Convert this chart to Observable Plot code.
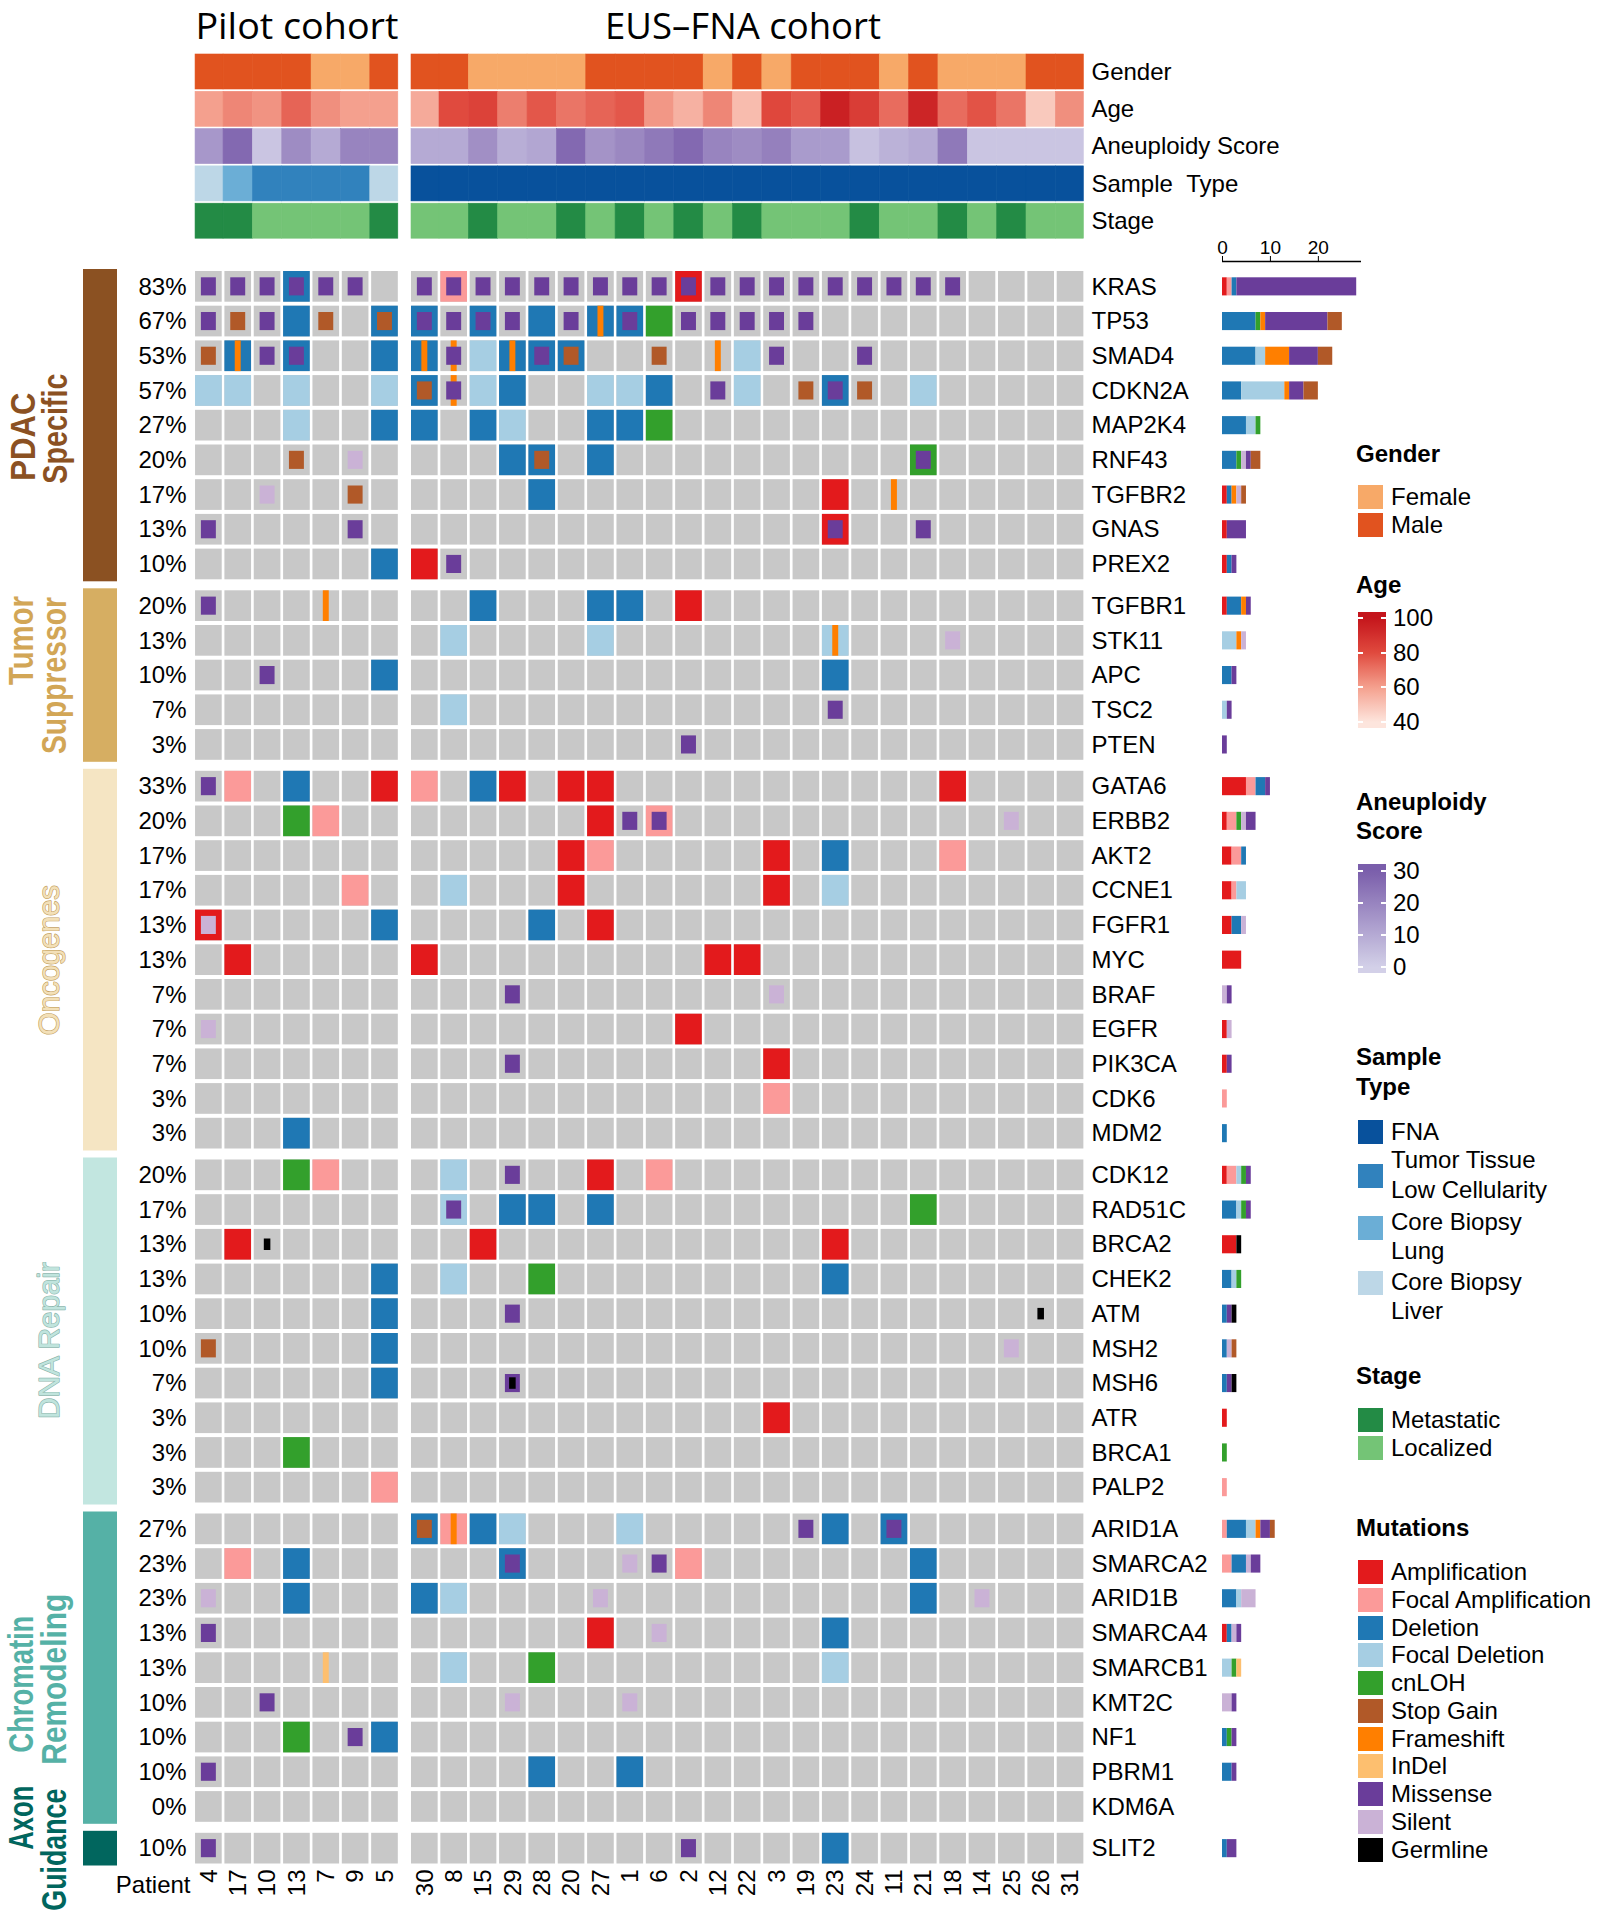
<!DOCTYPE html>
<html><head><meta charset="utf-8">
<script src="https://cdn.jsdelivr.net/npm/d3@7"></script>
<script src="https://cdn.jsdelivr.net/npm/@observablehq/plot@0.6"></script>
<style>
html,body{margin:0;padding:0;background:#fff;overflow:hidden;}
#wrap{position:relative;width:1600px;height:1920px;overflow:hidden;font-family:'Liberation Sans',Arial,sans-serif;color:#000;}
#wrap svg{position:absolute;left:0;top:0;}
.lg{position:absolute;font-size:24px;line-height:26px;white-space:nowrap;color:#000;}
.lgt{font-weight:bold;}
.sw{position:absolute;}
</style></head><body><div id="wrap"></div>
<script>
// ---------------- DATA ----------------
const patients = [4,17,10,13,7,9,5,30,8,15,29,28,20,27,1,6,2,12,22,3,19,23,24,11,21,18,14,25,26,31];
const PILOT_N = 7;
const gender = ["Male","Male","Male","Male","Female","Female","Male",
  "Male","Male","Female","Female","Female","Female","Male","Male","Male","Male","Female","Male","Female","Male","Male","Male","Female","Male","Female","Female","Female","Male","Male"];
const age = [60,66,63,74,64,60,60, 57,80,83,68,77,70,74,77,62,55,66,52,81,76,96,85,72,94,72,78,70,48,64];
const aneuploidy = [15,27,3,18,10,20,20, 10,10,17,9,11,27,16,19,23,27,20,18,21,14,14,4,8,10,23,3,3,3,3];
const sampleType = ["Core Biopsy Liver","Core Biopsy Lung","Tumor Tissue Low Cellularity","Tumor Tissue Low Cellularity","Tumor Tissue Low Cellularity","Tumor Tissue Low Cellularity","Core Biopsy Liver",
  "FNA","FNA","FNA","FNA","FNA","FNA","FNA","FNA","FNA","FNA","FNA","FNA","FNA","FNA","FNA","FNA","FNA","FNA","FNA","FNA","FNA","FNA","FNA"];
const stage = ["Metastatic","Metastatic","Localized","Localized","Localized","Localized","Metastatic",
  "Localized","Localized","Metastatic","Localized","Localized","Metastatic","Localized","Metastatic","Localized","Metastatic","Localized","Metastatic","Localized","Localized","Localized","Metastatic","Localized","Localized","Metastatic","Localized","Metastatic","Localized","Localized"];

const cohortTitles = ["Pilot cohort","EUS\u2013FNA cohort"];
const trackNames = ["Gender","Age","Aneuploidy Score","Sample\u00a0\u00a0Type","Stage"];

const groupNames = ["PDAC Specific","Tumor Suppressor","Oncogenes","DNA Repair","Chromatin Remodeling","Axon Guidance"];
const groupLabelLines = [["PDAC","Specific"],["Tumor","Suppressor"],["Oncogenes"],["DNA Repair"],["Chromatin","Remodeling"],["Axon","Guidance"]];
const groupSizes = [9,5,11,10,9,1];
const genes = ["KRAS","TP53","SMAD4","CDKN2A","MAP2K4","RNF43","TGFBR2","GNAS","PREX2",
  "TGFBR1","STK11","APC","TSC2","PTEN",
  "GATA6","ERBB2","AKT2","CCNE1","FGFR1","MYC","BRAF","EGFR","PIK3CA","CDK6","MDM2",
  "CDK12","RAD51C","BRCA2","CHEK2","ATM","MSH2","MSH6","ATR","BRCA1","PALP2",
  "ARID1A","SMARCA2","ARID1B","SMARCA4","SMARCB1","KMT2C","NF1","PBRM1","KDM6A",
  "SLIT2"];
const percentLabels = ["83%","67%","53%","57%","27%","20%","17%","13%","10%",
  "20%","13%","10%","7%","3%",
  "33%","20%","17%","17%","13%","13%","7%","7%","7%","3%","3%",
  "20%","17%","13%","13%","10%","10%","7%","3%","3%","3%",
  "27%","23%","23%","13%","13%","10%","10%","10%","0%",
  "10%"];
// patient:alteration codes, one string per gene (same order as genes)
const geneAlterations = [
  "4:M 17:M 10:M 13:D,M 7:M 9:M 30:M 8:FA,M 15:M 29:M 28:M 20:M 27:M 1:M 6:M 2:A,M 12:M 22:M 3:M 19:M 23:M 24:M 11:M 21:M 18:M",
  "4:M 17:SG 10:M 13:D 7:SG 5:D,SG 30:D,M 8:M 15:D,M 29:M 28:D 20:M 27:D,FS 1:D,M 6:L 2:M 12:M 22:M 3:M 19:M",
  "4:SG 17:D,FS 10:M 13:D,M 5:D 30:D,FS 8:FS,M 15:FD 29:D,FS 28:D,M 20:D,SG 6:SG 12:FS 22:FD 3:M 24:M",
  "4:FD 17:FD 13:FD 5:FD 30:D,SG 8:FS,M 15:FD 29:D 27:FD 1:FD 6:D 12:M 22:FD 19:SG 23:D,M 24:SG 21:FD",
  "13:FD 5:D 30:D 15:D 29:FD 27:D 1:D 6:L",
  "13:SG 9:S 29:D 28:D,SG 27:D 21:L,M",
  "10:S 9:SG 28:D 23:A 11:FS",
  "4:M 9:M 23:A,M 21:M",
  "5:D 30:A 8:M",
  "4:M 7:FS 15:D 27:D 1:D 2:A",
  "8:FD 27:FD 23:FD,FS 18:S",
  "10:M 5:D 23:D",
  "8:FD 23:M",
  "2:M",
  "4:M 17:FA 13:D 5:A 30:FA 15:D 29:A 20:A 27:A 18:A",
  "13:L 7:FA 27:A 1:M 6:FA,M 25:S",
  "20:A 27:FA 3:A 23:D 18:FA",
  "9:FA 8:FD 20:A 3:A 23:FD",
  "4:A,S 5:D 28:D 27:A",
  "17:A 30:A 12:A 22:A",
  "29:M 3:S",
  "4:S 2:A",
  "29:M 3:A",
  "3:FA",
  "13:D",
  "13:L 7:FA 8:FD 29:M 27:A 6:FA",
  "8:FD,M 29:D 28:D 27:D 21:L",
  "17:A 10:G 15:A 23:A",
  "5:D 8:FD 28:L 23:D",
  "5:D 29:M 26:G",
  "4:SG 5:D 25:S",
  "5:D 29:M,G",
  "3:A",
  "13:L",
  "5:FA",
  "30:D,SG 8:FA,FS 15:D 29:FD 1:FD 19:M 23:D 11:D,M",
  "17:FA 13:D 29:D,M 1:S 6:M 2:FA 21:D",
  "4:S 13:D 30:D 8:FD 27:S 21:D 14:S",
  "4:M 27:A 6:S 23:D",
  "7:ID 8:FD 28:L 23:FD",
  "10:M 29:S 1:S",
  "13:L 9:M 5:D",
  "4:M 28:D 1:D",
  "",
  "4:M 2:M 23:D"
];

const mutationTypes = ["Amplification","Focal Amplification","Deletion","Focal Deletion","cnLOH","Stop Gain","Frameshift","InDel","Missense","Silent","Germline"];
const mutationCodes = ["A","FA","D","FD","L","SG","FS","ID","M","S","G"];
const mutationColors = ["#e31a1c","#fb9a99","#1f78b4","#a6cee3","#33a02c","#b15928","#ff7f00","#fdbf6f","#6a3d9a","#cab2d6","#000000"];
const stackOrder = ["A","FA","D","FD","L","FS","ID","S","M","SG","G"];

const genderKeys = ["Female","Male"];
const genderColors = ["#f7a968","#e1531f"];
const sampleKeys = ["FNA","Tumor Tissue Low Cellularity","Core Biopsy Lung","Core Biopsy Liver"];
const sampleColors = ["#08519c","#3182bd","#6baed6","#bdd7e7"];
const stageKeys = ["Metastatic","Localized"];
const stageColors = ["#238b45","#74c476"];
const groupColors = ["#8b5122","#d6ae62","#f5e5c3","#c2e6e0","#55b1a6","#01665e"];
const groupTextFill = ["#8b5122","#d2a656","#f3e0b8","#c0e4dd","#55b1a6","#01665e"];
const groupTextStroke = [null,null,"#c4a265","#8db6ae",null,null];

// ---------------- LAYOUT ----------------
const FONT = "'Liberation Sans', Arial, sans-serif";
const TITLE_FONT = "'Open Sans', 'Liberation Sans', sans-serif";
const GROUP_FONT = "'Liberation Sans Narrow', 'Liberation Sans', Arial, sans-serif";
const X0 = 193.7, PX = 29.35, COHORT_GAP = 0.358;
const Y0 = 269, PY = 34.7, GROUP_GAP = 7 / 34.7;
const pyToY = p => (p - Y0) / PY;
const pxToX = p => (p - X0) / PX;

const typeColor = Object.fromEntries(mutationCodes.map((c, i) => [c, mutationColors[i]]));
const typeName = Object.fromEntries(mutationCodes.map((c, i) => [c, mutationTypes[i]]));
const gColor = Object.fromEntries(genderKeys.map((k, i) => [k, genderColors[i]]));
const sColor = Object.fromEntries(sampleKeys.map((k, i) => [k, sampleColors[i]]));
const stColor = Object.fromEntries(stageKeys.map((k, i) => [k, stageColors[i]]));
const ageColor = d3.scaleLinear().domain([40, 60, 80, 100]).range(["#fde5dd", "#f4a08e", "#e04a3e", "#c4151c"]).clamp(true);
const aneuColor = d3.scaleLinear().domain([0, 30]).range(["#d3d0e8", "#7a5eab"]).clamp(true);

const groupOfRow = groupSizes.flatMap((n, g) => Array(n).fill(g));
const groupStart = groupSizes.map((n, g) => d3.sum(groupSizes.slice(0, g)));
const xStart = i => i + (i >= PILOT_N ? COHORT_GAP : 0);
const yStart = r => r + groupOfRow[r] * GROUP_GAP;

// alterations table
const alts = [];
geneAlterations.forEach((s, r) => {
  s.split(/\s+/).filter(Boolean).forEach(tok => {
    const [p, codes] = tok.split(":");
    const i = patients.indexOf(+p);
    codes.split(",").forEach(c => alts.push({r, i, type: c, x1: xStart(i), x2: xStart(i) + 1, y1: yStart(r), y2: yStart(r) + 1}));
  });
});
const cells = [];
genes.forEach((g, r) => patients.forEach((p, i) => cells.push({r, i, x1: xStart(i), x2: xStart(i) + 1, y1: yStart(r), y2: yStart(r) + 1})));

const cnv = alts.filter(d => ["A","FA","D","FD","L"].includes(d.type));
const indel = alts.filter(d => ["FS","ID"].includes(d.type));
const squares = alts.filter(d => ["M","SG","S"].includes(d.type));
const germ = alts.filter(d => d.type === "G");

// header tracks
const trackValues = [
  i => gColor[gender[i]],
  i => ageColor(age[i]),
  i => aneuColor(aneuploidy[i]),
  i => sColor[sampleType[i]],
  i => stColor[stage[i]]
];
const TRACK_TOP = 54, TRACK_PITCH = 37.3, TRACK_H = 35;
const header = [];
trackValues.forEach((fn, t) => patients.forEach((p, i) => {
  const first = i === 0 || i === PILOT_N, last = i === PILOT_N - 1 || i === patients.length - 1;
  header.push({
    x1: xStart(i) + (first ? 1.35 / PX : 0), x2: xStart(i) + 1 - (last ? 1.35 / PX : 0),
    y1: pyToY(TRACK_TOP + t * TRACK_PITCH), y2: pyToY(TRACK_TOP + t * TRACK_PITCH + TRACK_H), fill: fn(i)
  });
}));

const groupBlocks = groupSizes.map((n, g) => ({g, y1: yStart(groupStart[g]), y2: yStart(groupStart[g] + n - 1) + 1}));
const labelLayout = [
  {xs: [23, 55], dys: [11, 3], size: 35, weight: "bold"},
  {xs: [21, 54], dys: [-35, 0], size: 35, weight: "bold"},
  {xs: [49], dys: [0], size: 29, weight: "normal"},
  {xs: [49], dys: [9], size: 29, weight: "normal"},
  {xs: [21, 54], dys: [16, 11], size: 35, weight: "bold"},
  {xs: [21, 54], dys: [-31, 1], size: 35, weight: "bold"}
];
const groupTextMarks = groupBlocks.map(b => {
  const L = labelLayout[b.g];
  const data = groupLabelLines[b.g].map((t, k) => ({t, x: pxToX(L.xs[k]), y: (b.y1 + b.y2) / 2 + L.dys[k] / PY}));
  return Plot.text(data, {
    x: "x", y: "y", text: "t", rotate: -90, textAnchor: "middle", lineAnchor: "middle",
    fontSize: L.size, fontWeight: L.weight, fontFamily: GROUP_FONT,
    fill: groupTextFill[b.g],
    ...(groupTextStroke[b.g] ? {stroke: groupTextStroke[b.g], strokeWidth: 1.3, paintOrder: "stroke"} : {})
  });
});

const insetCell = {insetLeft: 1.35, insetRight: 1.35, insetTop: 2, insetBottom: 2};
const rectCh = {x1: "x1", x2: "x2", y1: "y1", y2: "y2"};

const main = Plot.plot({
  width: 1600, height: 1920, margin: 0,
  style: {background: "transparent", fontFamily: FONT, color: "#000"},
  x: {type: "linear", domain: [0, 1], range: [X0, X0 + PX], axis: null},
  y: {type: "linear", domain: [0, 1], range: [Y0, Y0 + PY], axis: null},
  color: {type: "identity"},
  marks: [
    // header annotation tracks
    Plot.rect(header, {...rectCh, fill: "fill", stroke: "fill", strokeWidth: 0.6}),
    // grid
    Plot.rect(cells, {...rectCh, fill: "#c8c8c8", ...insetCell}),
    Plot.rect(cnv, {...rectCh, fill: d => typeColor[d.type], ...insetCell}),
    Plot.rect(indel, {...rectCh, fill: d => typeColor[d.type], insetLeft: 11.7, insetRight: 11.7, insetTop: 2, insetBottom: 2}),
    Plot.rect(squares, {...rectCh, fill: d => typeColor[d.type], insetLeft: 7.2, insetRight: 7.2, insetTop: 8.3, insetBottom: 8.3}),
    Plot.rect(germ, {...rectCh, fill: d => typeColor[d.type], insetLeft: 11.4, insetRight: 11.4, insetTop: 11.6, insetBottom: 11.6}),
    // group bars
    Plot.rect(groupBlocks, {x1: pxToX(83), x2: pxToX(117), y1: "y1", y2: "y2", fill: d => groupColors[d.g]}),
    ...groupTextMarks,
    // labels
    Plot.text(genes, {x: pxToX(186), y: (d, r) => yStart(r) + 0.5, text: (d, r) => percentLabels[r], textAnchor: "end", fontSize: 24, fontFamily: FONT}),
    Plot.text(genes, {x: pxToX(1091), y: (d, r) => yStart(r) + 0.5, text: d => d, textAnchor: "start", fontSize: 24, fontFamily: FONT}),
    Plot.text(trackNames, {x: pxToX(1091), y: (d, t) => pyToY(TRACK_TOP + t * TRACK_PITCH + TRACK_H / 2), text: d => d, textAnchor: "start", fontSize: 24, fontFamily: FONT}),
    Plot.text(patients, {x: (d, i) => xStart(i) + 0.5, y: pyToY(1869), text: d => String(d), rotate: -90, textAnchor: "end", fontSize: 24, fontFamily: FONT}),
    Plot.text(["Patient"], {x: pxToX(190), y: pyToY(1885), text: d => d, textAnchor: "end", fontSize: 24, fontFamily: FONT}),
    Plot.text(cohortTitles, {x: (d, k) => k === 0 ? PILOT_N / 2 : 18.7, y: pyToY(26.5), text: d => d, textAnchor: "middle", fontSize: 36, fontFamily: TITLE_FONT})
  ]
});

// stacked count bars on the right
const segs = [];
genes.forEach((g, r) => {
  let acc = 0;
  stackOrder.forEach(t => {
    const n = alts.filter(d => d.r === r && d.type === t).length;
    if (n) { segs.push({r, t, x1: acc, x2: acc + n}); acc += n; }
  });
});
const BAR_AXIS_PX = 261;
const barPlot = Plot.plot({
  width: 1600, height: 1920, marginTop: BAR_AXIS_PX, marginLeft: 1222, marginRight: 239, marginBottom: 0,
  style: {background: "transparent", fontFamily: FONT, color: "#000"},
  x: {type: "linear", domain: [0, 29], range: [1222, 1361]},
  y: {type: "linear", domain: [0, 1], range: [Y0, Y0 + PY], axis: null},
  color: {type: "identity"},
  marks: [
    Plot.rect(segs, {x1: "x1", x2: "x2", y1: d => yStart(d.r), y2: d => yStart(d.r) + 1, fill: d => typeColor[d.t], insetTop: 8.3, insetBottom: 8.3}),
    Plot.ruleY([pyToY(BAR_AXIS_PX)], {x1: 0, x2: 29, stroke: "#000", strokeWidth: 1.5}),
    Plot.axisX({anchor: "top", ticks: [0, 10, 20], tickSize: 6, tickPadding: 2, fontSize: 19, label: null})
  ]
});

const wrap = document.getElementById("wrap");
wrap.appendChild(main);
wrap.appendChild(barPlot);

// stretch titles & group labels to the reference widths
const textLengths = {"Pilot cohort": 203, "EUS\u2013FNA cohort": 276, "PDAC": 88, "Specific": 110, "Tumor": 89, "Suppressor": 157,
  "Oncogenes": 150, "DNA Repair": 157, "Chromatin": 137, "Remodeling": 171, "Axon": 64, "Guidance": 122};
d3.select(main).selectAll("text").each(function () {
  const L = textLengths[this.textContent];
  if (L) { this.setAttribute("textLength", L); this.setAttribute("lengthAdjust", "spacingAndGlyphs"); }
});

// ---------------- LEGENDS ----------------
function lgText(txt, x, cy, bold) {
  const d = document.createElement("div");
  d.className = "lg" + (bold ? " lgt" : "");
  d.textContent = txt; d.style.left = x + "px"; d.style.top = (cy - 13) + "px";
  wrap.appendChild(d);
}
function lgBox(color, x, cy, w, h) {
  const d = document.createElement("div");
  d.className = "sw";
  Object.assign(d.style, {left: x + "px", top: (cy - h / 2) + "px", width: w + "px", height: h + "px", background: color});
  wrap.appendChild(d);
}
function lgRamp(x, top, bottom, w, colorFn, vTop, vBot, pTop, pBot, ticks) {
  const v = p => vTop + (p - pTop) / (pBot - pTop) * (vBot - vTop);
  const stops = d3.range(0, 21).map(k => { const p = top + k * (bottom - top) / 20; return `${colorFn(v(p))} ${k * 5}%`; });
  const d = document.createElement("div");
  d.className = "sw";
  Object.assign(d.style, {left: x + "px", top: top + "px", width: w + "px", height: (bottom - top) + "px", background: `linear-gradient(to bottom, ${stops.join(",")})`});
  wrap.appendChild(d);
  ticks.forEach(t => {
    const p = pTop + (t - vTop) / (vBot - vTop) * (pBot - pTop);
    [x, x + w - 5].forEach(tx => {
      const tk = document.createElement("div");
      tk.className = "sw";
      Object.assign(tk.style, {left: tx + "px", top: (p - 1) + "px", width: "5px", height: "2px", background: "#fff"});
      wrap.appendChild(tk);
    });
    lgText(String(t), x + w + 7, p);
  });
}
const LX = 1358, TX = 1391, TTX = 1356;
lgText("Gender", TTX, 454, true);
genderKeys.forEach((k, i) => { const cy = [497, 525][i]; lgBox(genderColors[i], LX, cy, 25, 24); lgText(k, TX, cy); });
lgText("Age", TTX, 585, true);
lgRamp(LX, 612, 728, 28, ageColor, 100, 40, 618, 722, [100, 80, 60, 40]);
lgText("Aneuploidy", TTX, 802, true);
lgText("Score", TTX, 831, true);
lgRamp(LX, 864, 973, 28, aneuColor, 30, 0, 871, 967, [30, 20, 10, 0]);
lgText("Sample", TTX, 1057, true);
lgText("Type", TTX, 1087, true);
const sampleLegend = [
  {box: 1132, lines: [["FNA", 1132]]},
  {box: 1176, lines: [["Tumor Tissue", 1160], ["Low Cellularity", 1190]]},
  {box: 1228, lines: [["Core Biopsy", 1222], ["Lung", 1251]]},
  {box: 1283, lines: [["Core Biopsy", 1282], ["Liver", 1311]]}
];
sampleLegend.forEach((s, i) => { lgBox(sampleColors[i], LX, s.box, 25, 24); s.lines.forEach(([t, cy]) => lgText(t, TX, cy)); });
lgText("Stage", TTX, 1376, true);
stageKeys.forEach((k, i) => { const cy = [1420, 1448][i]; lgBox(stageColors[i], LX, cy, 25, 24); lgText(k, TX, cy); });
lgText("Mutations", TTX, 1528, true);
mutationTypes.forEach((k, i) => { const cy = 1572 + i * 27.75; lgBox(mutationColors[i], LX, cy, 25, 24); lgText(k, TX, cy); });
</script></body></html>
